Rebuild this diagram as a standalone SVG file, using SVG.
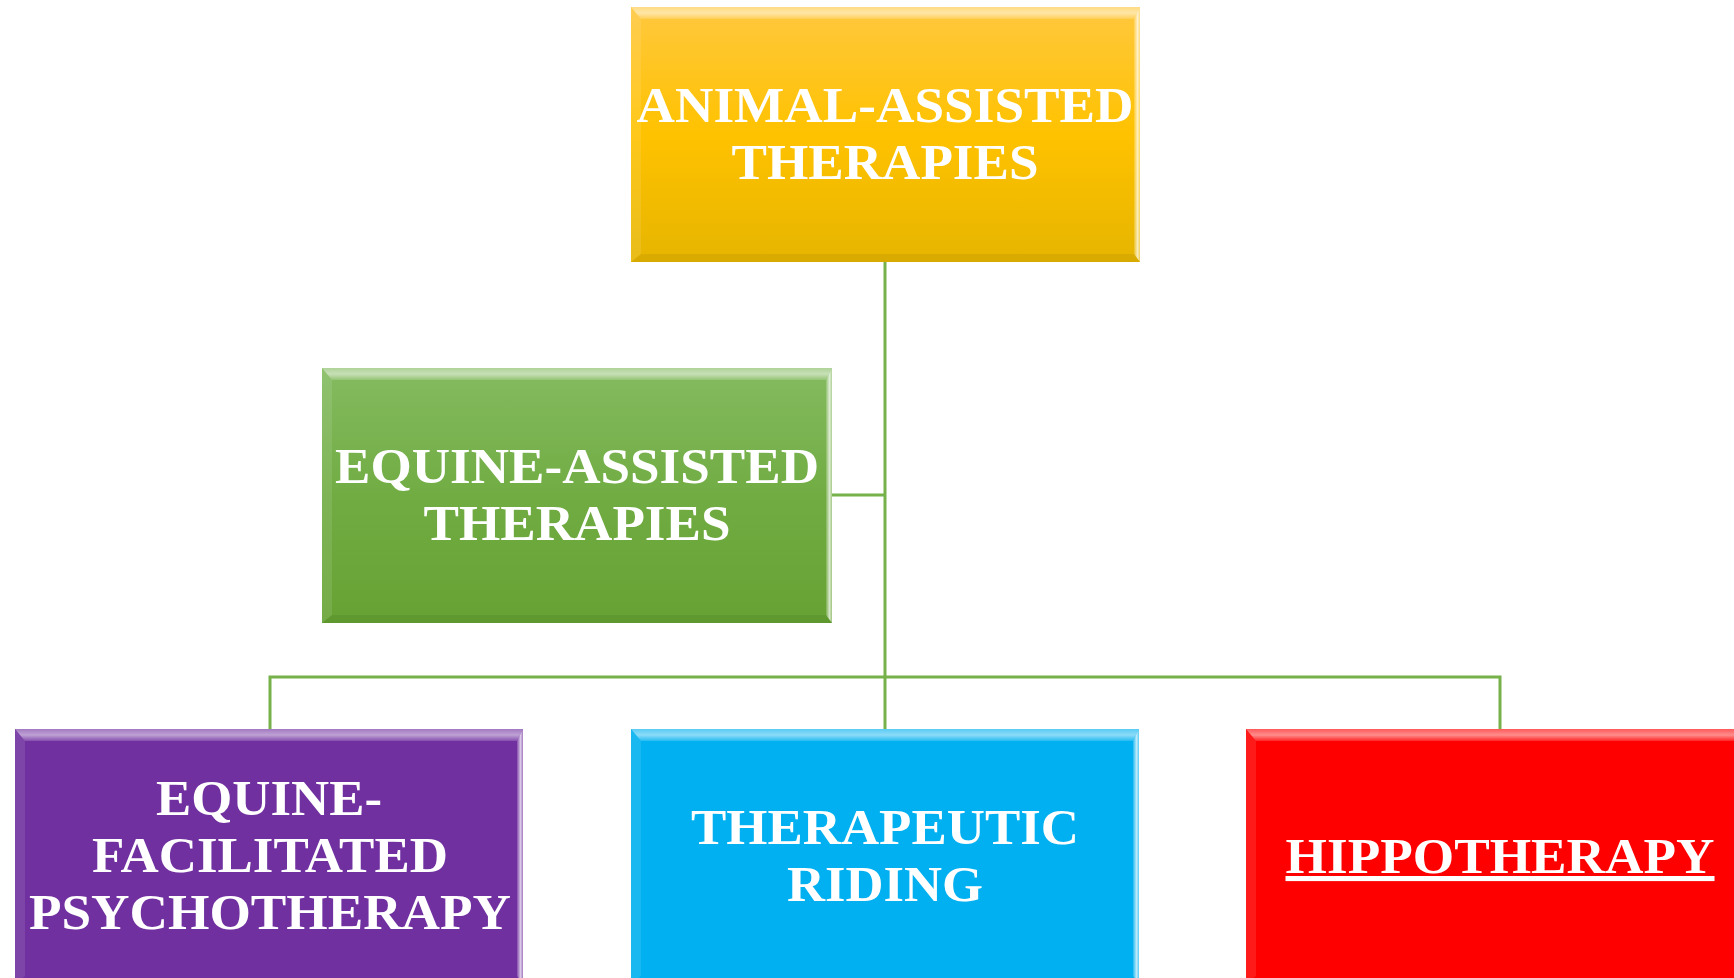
<svg xmlns="http://www.w3.org/2000/svg" width="1734" height="978" viewBox="0 0 1734 978">
  <style>
    .lbl { font-family: "Liberation Serif", "Times New Roman", serif; font-weight: bold; font-size: 51px; fill: #FFFFFF; text-anchor: middle; }
    .conn { fill: none; stroke: #77B149; stroke-width: 3; }
    .bt { fill: url(#bevTop); }
    .bl { fill: #FFFFFF; fill-opacity: 0.10; }
    .br { fill: url(#bevRight); }
    .bb { fill: #000000; fill-opacity: 0.06; }
    .ul { text-decoration: underline; text-decoration-thickness: 5px; text-underline-offset: 6px; }
  </style>
  <defs>
    <linearGradient id="gOrange" x1="0" y1="0" x2="0" y2="1">
      <stop offset="0" stop-color="#FFC83E"/>
      <stop offset="0.5" stop-color="#FFC200"/>
      <stop offset="1" stop-color="#E6B500"/>
    </linearGradient>
    <linearGradient id="gGreen" x1="0" y1="0" x2="0" y2="1">
      <stop offset="0" stop-color="#84BB60"/>
      <stop offset="0.5" stop-color="#71AC43"/>
      <stop offset="1" stop-color="#66A233"/>
    </linearGradient>
    <linearGradient id="bevTop" x1="0" y1="0" x2="0" y2="1">
      <stop offset="0" stop-color="#FFFFFF" stop-opacity="0.35"/>
      <stop offset="0.5" stop-color="#FFFFFF" stop-opacity="0.55"/>
      <stop offset="1" stop-color="#FFFFFF" stop-opacity="0.15"/>
    </linearGradient>
    <linearGradient id="bevRight" x1="0" y1="0" x2="1" y2="0">
      <stop offset="0" stop-color="#FFFFFF" stop-opacity="0.15"/>
      <stop offset="0.6" stop-color="#FFFFFF" stop-opacity="0.75"/>
      <stop offset="1" stop-color="#FFFFFF" stop-opacity="0.35"/>
    </linearGradient>
  </defs>

  <g id="connectors">
    <line class="conn" x1="885" y1="262" x2="885" y2="729"/>
    <line class="conn" x1="832" y1="495" x2="885" y2="495"/>
    <polyline class="conn" points="270,729 270,677 1500,677 1500,729"/>
  </g>

  <g id="node-animal-assisted">
    <rect x="631" y="7" width="509" height="255" fill="url(#gOrange)"/>
    <polygon class="bt" points="631,7 1140,7 1134,19 641,19"/>
    <polygon class="bl" points="631,7 641,19 641,254 631,262"/>
    <polygon class="br" points="1140,7 1140,262 1134,254 1134,19"/>
    <polygon class="bb" points="631,262 641,254 1134,254 1140,262"/>
    <text class="lbl"><tspan x="885" y="122" textLength="497" lengthAdjust="spacingAndGlyphs">ANIMAL-ASSISTED</tspan><tspan x="885" y="179" textLength="307" lengthAdjust="spacingAndGlyphs">THERAPIES</tspan></text>
  </g>

  <g id="node-equine-assisted">
    <rect x="322" y="368" width="510" height="255" fill="url(#gGreen)"/>
    <polygon class="bt" points="322,368 832,368 826,380 332,380"/>
    <polygon class="bl" points="322,368 332,380 332,615 322,623"/>
    <polygon class="br" points="832,368 832,623 826,615 826,380"/>
    <polygon class="bb" points="322,623 332,615 826,615 832,623"/>
    <text class="lbl"><tspan x="577" y="483" textLength="484" lengthAdjust="spacingAndGlyphs">EQUINE-ASSISTED</tspan><tspan x="577" y="540" textLength="307" lengthAdjust="spacingAndGlyphs">THERAPIES</tspan></text>
  </g>

  <g id="node-psychotherapy">
    <rect x="15" y="729" width="508" height="255" fill="#7030A0"/>
    <polygon class="bt" points="15,729 523,729 517,741 25,741"/>
    <polygon class="bl" points="15,729 25,741 25,976 15,984"/>
    <polygon class="br" points="523,729 523,984 517,976 517,741"/>
    <text class="lbl"><tspan x="269" y="815" textLength="226" lengthAdjust="spacingAndGlyphs">EQUINE-</tspan><tspan x="270" y="872" textLength="356" lengthAdjust="spacingAndGlyphs">FACILITATED</tspan><tspan x="270" y="929" textLength="482" lengthAdjust="spacingAndGlyphs">PSYCHOTHERAPY</tspan></text>
  </g>

  <g id="node-therapeutic-riding">
    <rect x="631" y="729" width="508" height="255" fill="#00B0F0"/>
    <polygon class="bt" points="631,729 1139,729 1133,741 641,741"/>
    <polygon class="bl" points="631,729 641,741 641,976 631,984"/>
    <polygon class="br" points="1139,729 1139,984 1133,976 1133,741"/>
    <text class="lbl"><tspan x="885" y="844" textLength="388" lengthAdjust="spacingAndGlyphs">THERAPEUTIC</tspan><tspan x="885" y="901" textLength="196" lengthAdjust="spacingAndGlyphs">RIDING</tspan></text>
  </g>

  <g id="node-hippotherapy">
    <rect x="1246" y="729" width="508" height="255" fill="#FF0000"/>
    <polygon class="bt" points="1246,729 1754,729 1748,741 1256,741"/>
    <polygon class="bl" points="1246,729 1256,741 1256,976 1246,984"/>
    <text class="lbl ul" x="1500" y="873" textLength="429" lengthAdjust="spacingAndGlyphs">HIPPOTHERAPY</text>
  </g>
</svg>
